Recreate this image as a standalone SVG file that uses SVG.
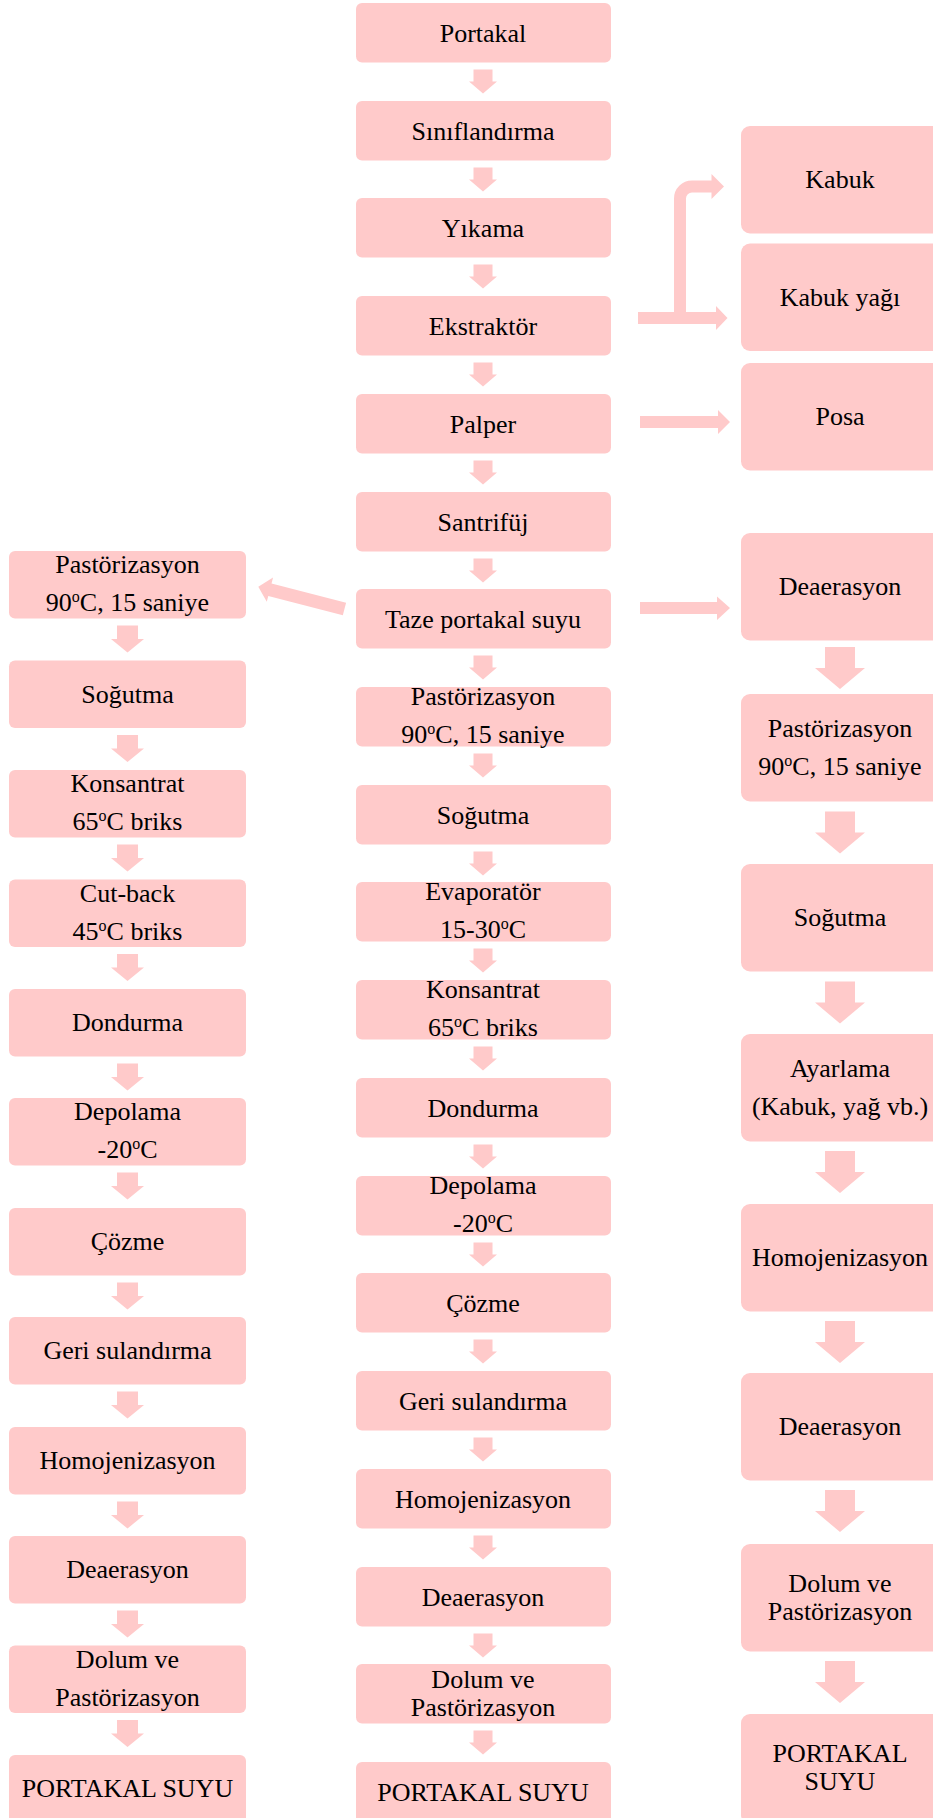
<svg xmlns="http://www.w3.org/2000/svg" width="933" height="1818" viewBox="0 0 933 1818">
<style>
.b{fill:#FFCACA}
.a{fill:#FFCACA}
.ln{fill:none;stroke:#FFCACA;stroke-width:12}
text{font-family:"Liberation Serif","Times New Roman",serif;font-size:26px;fill:#000;text-anchor:middle}
.c text{}
.s{font-size:16px}
</style>
<defs>
<path id="ac" class="a" d="M-9.5,0H9.5V12H14L0,24L-14,12H-9.5Z"/>
<path id="al" class="a" d="M-10.5,0H10.5V13.5H16.5L0,27L-16.5,13.5H-10.5Z"/>
<path id="ar" class="a" d="M-15,0H15V21H25L0,42L-25,21H-15Z"/>
</defs>
<rect width="933" height="1818" fill="#fff"/>

<g id="connectors">
<use href="#ac" x="483" y="69.5"/>
<use href="#ac" x="483" y="167.5"/>
<use href="#ac" x="483" y="264.5"/>
<use href="#ac" x="483" y="362.5"/>
<use href="#ac" x="483" y="460.5"/>
<use href="#ac" x="483" y="558.5"/>
<use href="#ac" x="483" y="655.5"/>
<use href="#ac" x="483" y="753.5"/>
<use href="#ac" x="483" y="851.5"/>
<use href="#ac" x="483" y="948.5"/>
<use href="#ac" x="483" y="1046.5"/>
<use href="#ac" x="483" y="1144.5"/>
<use href="#ac" x="483" y="1242.5"/>
<use href="#ac" x="483" y="1339.5"/>
<use href="#ac" x="483" y="1437.5"/>
<use href="#ac" x="483" y="1535.5"/>
<use href="#ac" x="483" y="1633.5"/>
<use href="#ac" x="483" y="1730.5"/>

<use href="#al" x="127.5" y="625.5"/>
<use href="#al" x="127.5" y="735"/>
<use href="#al" x="127.5" y="844.5"/>
<use href="#al" x="127.5" y="954"/>
<use href="#al" x="127.5" y="1063.5"/>
<use href="#al" x="127.5" y="1172.5"/>
<use href="#al" x="127.5" y="1282.5"/>
<use href="#al" x="127.5" y="1391.5"/>
<use href="#al" x="127.5" y="1501.5"/>
<use href="#al" x="127.5" y="1610.5"/>
<use href="#al" x="127.5" y="1720"/>

<use href="#ar" x="840" y="647" transform="translate(0,0)"/>
<use href="#ar" x="840" y="811.5"/>
<use href="#ar" x="840" y="981.5"/>
<use href="#ar" x="840" y="1151"/>
<use href="#ar" x="840" y="1321"/>
<use href="#ar" x="840" y="1490"/>
<use href="#ar" x="840" y="1661"/>

<!-- Ekstraktör branches -->
<polygon class="a" points="638,312 716,312 716,306 727.5,318 716,330 716,324 638,324"/>
<path class="ln" d="M680,318V198.5A12,12 0 0 1 692,186.5H712"/>
<polygon class="a" points="711.5,174 724,186.5 711.5,199"/>
<!-- Palper to Posa -->
<polygon class="a" points="640,416 718,416 718,410 730,422 718,434 718,428 640,428"/>
<!-- Taze to Deaerasyon -->
<polygon class="a" points="640,602 717,602 717,596.5 730,608 717,620 717,614 640,614"/>
<!-- Taze to left Pastörizasyon -->
<polygon class="a" transform="translate(258.3,586.7) rotate(14.5)" points="0,0 12,-12.5 12,-6.5 89,-6.5 89,6.5 12,6.5 12,12.5"/>
</g>

<!-- Center column -->
<g id="c-portakal"><rect class="b" x="356" y="3" width="255" height="59.5" rx="6"/><text x="483" y="42">Portakal</text></g>
<g id="c-siniflandirma"><rect class="b" x="356" y="101" width="255" height="59.5" rx="6"/><text x="483" y="140">Sınıflandırma</text></g>
<g id="c-yikama"><rect class="b" x="356" y="198" width="255" height="59.5" rx="6"/><text x="483" y="237">Yıkama</text></g>
<g id="c-ekstraktor"><rect class="b" x="356" y="296" width="255" height="59.5" rx="6"/><text x="483" y="335">Ekstraktör</text></g>
<g id="c-palper"><rect class="b" x="356" y="394" width="255" height="59.5" rx="6"/><text x="483" y="433">Palper</text></g>
<g id="c-santrifuj"><rect class="b" x="356" y="492" width="255" height="59.5" rx="6"/><text x="483" y="531">Santrifüj</text></g>
<g id="c-taze"><rect class="b" x="356" y="589" width="255" height="59.5" rx="6"/><text x="483" y="628">Taze portakal suyu</text></g>
<g id="c-pastorizasyon"><rect class="b" x="356" y="687" width="255" height="59.5" rx="6"/><text x="483" y="705">Pastörizasyon</text><text x="483" y="743">90<tspan class="s" dy="-9">o</tspan><tspan dy="9">C, 15 saniye</tspan></text></g>
<g id="c-sogutma"><rect class="b" x="356" y="785" width="255" height="59.5" rx="6"/><text x="483" y="824">Soğutma</text></g>
<g id="c-evaporator"><rect class="b" x="356" y="882" width="255" height="59.5" rx="6"/><text x="483" y="900">Evaporatör</text><text x="483" y="938">15-30<tspan class="s" dy="-9">o</tspan><tspan dy="9">C</tspan></text></g>
<g id="c-konsantrat"><rect class="b" x="356" y="980" width="255" height="59.5" rx="6"/><text x="483" y="998">Konsantrat</text><text x="483" y="1036">65<tspan class="s" dy="-9">o</tspan><tspan dy="9">C briks</tspan></text></g>
<g id="c-dondurma"><rect class="b" x="356" y="1078" width="255" height="59.5" rx="6"/><text x="483" y="1117">Dondurma</text></g>
<g id="c-depolama"><rect class="b" x="356" y="1176" width="255" height="59.5" rx="6"/><text x="483" y="1194">Depolama</text><text x="483" y="1232">-20<tspan class="s" dy="-9">o</tspan><tspan dy="9">C</tspan></text></g>
<g id="c-cozme"><rect class="b" x="356" y="1273" width="255" height="59.5" rx="6"/><text x="483" y="1312">Çözme</text></g>
<g id="c-geri"><rect class="b" x="356" y="1371" width="255" height="59.5" rx="6"/><text x="483" y="1410">Geri sulandırma</text></g>
<g id="c-homojenizasyon"><rect class="b" x="356" y="1469" width="255" height="59.5" rx="6"/><text x="483" y="1508">Homojenizasyon</text></g>
<g id="c-deaerasyon"><rect class="b" x="356" y="1567" width="255" height="59.5" rx="6"/><text x="483" y="1606">Deaerasyon</text></g>
<g id="c-dolum"><rect class="b" x="356" y="1664" width="255" height="59.5" rx="6"/><text x="483" y="1688">Dolum ve</text><text x="483" y="1716">Pastörizasyon</text></g>
<g id="c-portakalsuyu"><rect class="b" x="356" y="1762" width="255" height="62" rx="6"/><text x="483" y="1801">PORTAKAL SUYU</text></g>

<!-- Left column -->
<g id="l-pastorizasyon"><rect class="b" x="9" y="551" width="237" height="67.5" rx="6"/><text x="127.5" y="573">Pastörizasyon</text><text x="127.5" y="611">90<tspan class="s" dy="-9">o</tspan><tspan dy="9">C, 15 saniye</tspan></text></g>
<g id="l-sogutma"><rect class="b" x="9" y="660.5" width="237" height="67.5" rx="6"/><text x="127.5" y="702.5">Soğutma</text></g>
<g id="l-konsantrat"><rect class="b" x="9" y="770" width="237" height="67.5" rx="6"/><text x="127.5" y="792">Konsantrat</text><text x="127.5" y="830">65<tspan class="s" dy="-9">o</tspan><tspan dy="9">C briks</tspan></text></g>
<g id="l-cutback"><rect class="b" x="9" y="879.5" width="237" height="67.5" rx="6"/><text x="127.5" y="901.5">Cut-back</text><text x="127.5" y="939.5">45<tspan class="s" dy="-9">o</tspan><tspan dy="9">C briks</tspan></text></g>
<g id="l-dondurma"><rect class="b" x="9" y="989" width="237" height="67.5" rx="6"/><text x="127.5" y="1031">Dondurma</text></g>
<g id="l-depolama"><rect class="b" x="9" y="1098" width="237" height="67.5" rx="6"/><text x="127.5" y="1120">Depolama</text><text x="127.5" y="1158">-20<tspan class="s" dy="-9">o</tspan><tspan dy="9">C</tspan></text></g>
<g id="l-cozme"><rect class="b" x="9" y="1208" width="237" height="67.5" rx="6"/><text x="127.5" y="1250">Çözme</text></g>
<g id="l-geri"><rect class="b" x="9" y="1317" width="237" height="67.5" rx="6"/><text x="127.5" y="1359">Geri sulandırma</text></g>
<g id="l-homojenizasyon"><rect class="b" x="9" y="1427" width="237" height="67.5" rx="6"/><text x="127.5" y="1469">Homojenizasyon</text></g>
<g id="l-deaerasyon"><rect class="b" x="9" y="1536" width="237" height="67.5" rx="6"/><text x="127.5" y="1578">Deaerasyon</text></g>
<g id="l-dolum"><rect class="b" x="9" y="1645.5" width="237" height="67.5" rx="6"/><text x="127.5" y="1667.5">Dolum ve</text><text x="127.5" y="1706">Pastörizasyon</text></g>
<g id="l-portakalsuyu"><rect class="b" x="9" y="1755" width="237" height="70" rx="6"/><text x="127.5" y="1797">PORTAKAL SUYU</text></g>

<!-- Right column -->
<g id="r-kabuk"><rect class="b" x="741" y="126" width="200" height="107.5" rx="9"/><text x="840" y="188">Kabuk</text></g>
<g id="r-kabukyagi"><rect class="b" x="741" y="243.5" width="200" height="107.5" rx="9"/><text x="840" y="305.5">Kabuk yağı</text></g>
<g id="r-posa"><rect class="b" x="741" y="363" width="200" height="107.5" rx="9"/><text x="840" y="425">Posa</text></g>
<g id="r-deaerasyon1"><rect class="b" x="741" y="533" width="200" height="107.5" rx="9"/><text x="840" y="595">Deaerasyon</text></g>
<g id="r-pastorizasyon"><rect class="b" x="741" y="694" width="200" height="107.5" rx="9"/><text x="840" y="737">Pastörizasyon</text><text x="840" y="775">90<tspan class="s" dy="-9">o</tspan><tspan dy="9">C, 15 saniye</tspan></text></g>
<g id="r-sogutma"><rect class="b" x="741" y="864" width="200" height="107.5" rx="9"/><text x="840" y="926">Soğutma</text></g>
<g id="r-ayarlama"><rect class="b" x="741" y="1034" width="200" height="107.5" rx="9"/><text x="840" y="1077">Ayarlama</text><text x="840" y="1115">(Kabuk, yağ vb.)</text></g>
<g id="r-homojenizasyon"><rect class="b" x="741" y="1204" width="200" height="107.5" rx="9"/><text x="840" y="1266">Homojenizasyon</text></g>
<g id="r-deaerasyon2"><rect class="b" x="741" y="1373" width="200" height="107.5" rx="9"/><text x="840" y="1435">Deaerasyon</text></g>
<g id="r-dolum"><rect class="b" x="741" y="1544" width="200" height="107.5" rx="9"/><text x="840" y="1592">Dolum ve</text><text x="840" y="1620">Pastörizasyon</text></g>
<g id="r-portakalsuyu"><rect class="b" x="741" y="1714" width="200" height="110" rx="9"/><text x="840" y="1762">PORTAKAL</text><text x="840" y="1790">SUYU</text></g>
</svg>
